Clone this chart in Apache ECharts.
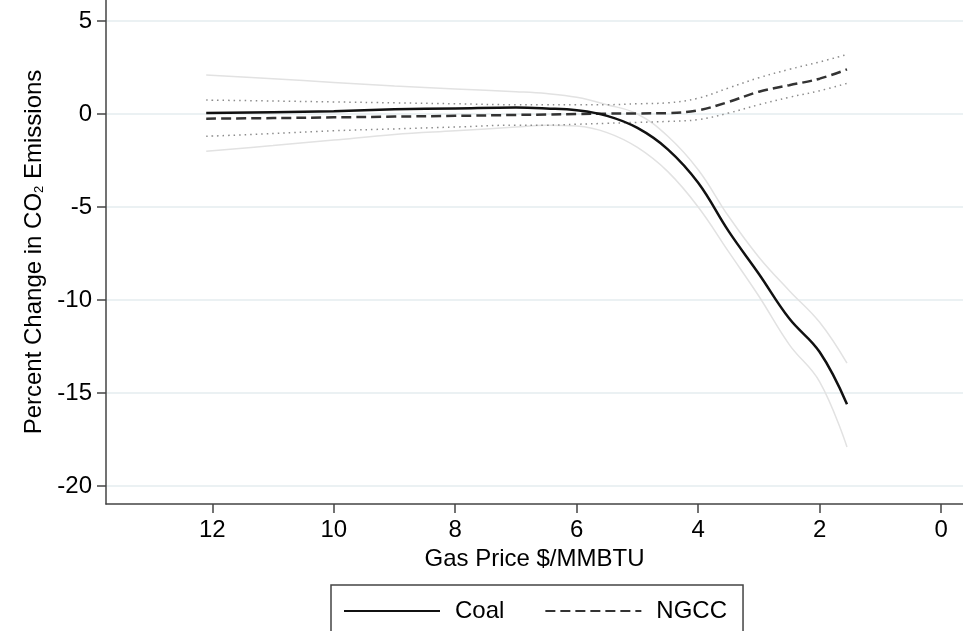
<!DOCTYPE html>
<html>
<head>
    <meta charset="utf-8" />
    <title>ECharts</title>
    <script src="https://cdn.jsdelivr.net/npm/echarts@6/dist/echarts.min.js"></script>
    <style>
        html, body { margin: 0; padding: 0; background: #fff; }
    </style>
</head>
<body>
<div id="main" style="width: 963px;height:631px;"></div>

<script type="text/javascript">
    // gas price ($/MMBTU) where the curves are read
    var prices = [12.1, 11, 10, 9, 8, 7, 6.5, 6, 5.5, 5, 4.5, 4, 3.5, 3, 2.5, 2, 1.55];

    // coal: estimate and 95% band
    var coalMean  = [0.05, 0.1, 0.15, 0.25, 0.3, 0.35, 0.3, 0.2, -0.1, -0.75, -1.9, -3.7, -6.3, -8.6, -11.0, -12.8, -15.6];
    var coalUpper = [2.1, 1.9, 1.7, 1.5, 1.35, 1.2, 1.1, 0.9, 0.5, 0.0, -1.2, -3.0, -5.5, -7.7, -9.5, -11.2, -13.4];
    var coalLower = [-2.0, -1.7, -1.4, -1.1, -0.9, -0.7, -0.6, -0.65, -1.0, -1.8, -3.1, -5.0, -7.4, -9.8, -12.4, -14.4, -17.9];

    // NGCC: estimate and 95% band
    var ngccMean  = [-0.25, -0.22, -0.18, -0.14, -0.1, -0.05, -0.03, 0, 0.02, 0.03, 0.05, 0.2, 0.65, 1.2, 1.55, 1.9, 2.4];
    var ngccUpper = [0.75, 0.7, 0.65, 0.6, 0.55, 0.5, 0.5, 0.5, 0.5, 0.55, 0.6, 0.85, 1.4, 1.95, 2.4, 2.8, 3.2];
    var ngccLower = [-1.2, -1.05, -0.9, -0.8, -0.7, -0.6, -0.6, -0.55, -0.5, -0.45, -0.4, -0.3, 0.05, 0.5, 0.9, 1.25, 1.65];

    var xTicks = [0, 2, 4, 6, 8, 10, 12];
    var yTicks = [-20, -15, -10, -5, 0, 5];

    function pairs(vals) {
        return prices.map(function (p, i) { return [p, vals[i]]; });
    }

    var myChart = echarts.init(document.getElementById('main'));
    var font = 'Liberation Sans, Arial, sans-serif';

    var option = {
        animation: false,
        backgroundColor: '#fff',
        textStyle: { fontFamily: font },
        grid: { left: 106, right: 0, top: 0, bottom: 127 },
        legend: {
            data: ['Coal', 'NGCC'],
            left: 331,
            top: 585,
            padding: [14, 16, 20, 12],
            itemGap: 40,
            itemWidth: 96,
            itemHeight: 20,
            borderColor: '#444',
            borderWidth: 1.5,
            borderRadius: 0,
            backgroundColor: '#fff',
            itemStyle: { opacity: 0 },
            textStyle: { fontSize: 24, color: '#000', fontFamily: font, padding: [0, 0, 0, 10] }
        },
        xAxis: {
            type: 'value',
            inverse: true,
            min: -0.36,
            max: 13.75,
            name: 'Gas Price $/MMBTU',
            nameLocation: 'middle',
            nameGap: 42,
            nameTextStyle: { fontSize: 24, color: '#000', fontFamily: font },
            axisLine: { show: true, onZero: false, lineStyle: { color: '#444', width: 1.5 } },
            axisTick: { show: true, length: 9, customValues: xTicks, lineStyle: { color: '#444', width: 1.5 } },
            axisLabel: { fontSize: 24, color: '#000', margin: 14, customValues: xTicks, fontFamily: font },
            splitLine: { show: false }
        },
        yAxis: {
            type: 'value',
            min: -20.97,
            max: 6.13,
            name: 'Percent Change in CO{sub|2} Emissions',
            nameLocation: 'middle',
            nameGap: 60,
            nameRotate: 90,
            nameTextStyle: {
                fontSize: 24, color: '#000', fontFamily: font,
                rich: { sub: { fontSize: 13, color: '#000', verticalAlign: 'bottom', fontFamily: font } }
            },
            axisLine: { show: true, onZero: false, lineStyle: { color: '#444', width: 1.5 } },
            axisTick: { show: true, length: 9, customValues: yTicks, lineStyle: { color: '#444', width: 1.5 } },
            axisLabel: { fontSize: 24, color: '#000', margin: 14, customValues: yTicks, fontFamily: font },
            splitLine: { show: true, lineStyle: { color: '#e4edef', width: 1.5 } }
        },
        series: [
            { name: 'Coal upper', type: 'line', data: pairs(coalUpper), smooth: 0.4, symbol: 'none', z: 1,
              lineStyle: { color: '#e2e2e2', width: 1.5 } },
            { name: 'Coal lower', type: 'line', data: pairs(coalLower), smooth: 0.4, symbol: 'none', z: 1,
              lineStyle: { color: '#e2e2e2', width: 1.5 } },
            { name: 'NGCC upper', type: 'line', data: pairs(ngccUpper), smooth: 0.4, symbol: 'none', z: 2,
              lineStyle: { color: '#8c8c8c', width: 1.5, type: [1.5, 4] } },
            { name: 'NGCC lower', type: 'line', data: pairs(ngccLower), smooth: 0.4, symbol: 'none', z: 2,
              lineStyle: { color: '#8c8c8c', width: 1.5, type: [1.5, 4] } },
            { name: 'Coal', type: 'line', data: pairs(coalMean), smooth: 0.4, symbol: 'none', z: 4,
              color: '#111', lineStyle: { color: '#111', width: 2.5 } },
            { name: 'NGCC', type: 'line', data: pairs(ngccMean), smooth: 0.4, symbol: 'none', z: 3,
              color: '#333', lineStyle: { color: '#333', width: 2.5, type: [10, 5] } }
        ]
    };

    myChart.setOption(option);
</script>
</body>
</html>
